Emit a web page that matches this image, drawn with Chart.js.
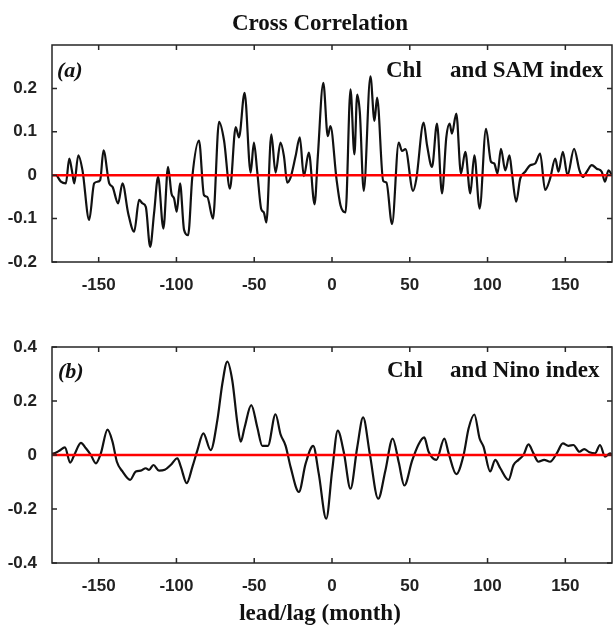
<!DOCTYPE html>
<html>
<head>
<meta charset="utf-8">
<script src="https://cdn.jsdelivr.net/npm/chart.js@4.4.0/dist/chart.umd.min.js"></script>
<style>
  html, body { margin: 0; padding: 0; background: #fff; }
  #wrap { position: relative; width: 614px; height: 632px; overflow: hidden; }
  .pane { position: absolute; left: 0; width: 614px; }
</style>
</head>
<body>
<div id="wrap">
  <div class="pane" style="top:0;height:310px"><canvas id="cA"></canvas></div>
  <div class="pane" style="top:310px;height:322px"><canvas id="cB"></canvas></div>
</div>
<script>
// ---- data (lag in months, correlation) ----
const lagA = [-180,-177.5,-174.3,-171.1,-168.9,-167.2,-165.7,-163.1,-160.4,-156.1,-152.9,-150.7,-149,-146.9,-143.2,-141.1,-137.5,-134.7,-131,-127.2,-124,-121.8,-119.7,-116.9,-114.4,-111.8,-108.4,-105.4,-103.2,-101.5,-99.8,-97.7,-95.1,-92.5,-89.8,-85.5,-82.3,-80.2,-76.5,-72.6,-69.4,-65.6,-61.9,-59.8,-56.2,-52.3,-50.2,-48,-45.5,-43.8,-42.2,-39,-36.3,-33.1,-30.9,-28.8,-26.6,-23.4,-20.7,-18.1,-14.9,-11.2,-9.1,-5.6,-2.7,-1,2.9,5.5,8.7,11.9,14.4,16.2,17.9,20.4,24.7,27.3,29,32.9,35,38.6,42.9,45,47.2,52.1,54.2,58.9,61.1,64.3,67.5,70.7,73.5,75.6,77.1,79.9,82.9,85.7,88.9,91.5,94.9,99,102.2,104.3,106.4,108.6,111.4,114.1,115.7,118.4,121,124.2,127.4,130.6,133.8,137,140.2,143.5,145.6,148.4,151.4,155.6,159.1,161.2,163.8,167,170.2,173.4,175.5,177.7,180];
const corrA = [0,0,-0.015,-0.019,0.038,0.011,-0.019,0.046,0.011,-0.103,-0.019,-0.015,-0.011,0.057,-0.019,-0.027,-0.065,-0.019,-0.088,-0.13,-0.057,-0.065,-0.073,-0.165,-0.088,-0.004,-0.123,0.019,-0.042,-0.054,-0.084,-0.019,-0.126,-0.138,-0.004,0.08,-0.046,-0.05,-0.1,0.123,0.08,-0.031,0.111,0.087,0.19,0.006,0.075,0.006,-0.078,-0.086,-0.109,0.094,0.006,0.075,0.044,-0.017,-0.005,0.044,0.087,-0.002,0.052,-0.067,0.044,0.213,0.09,0.113,-0.009,-0.07,-0.086,0.198,0.048,0.186,0.144,-0.036,0.228,0.125,0.179,-0.013,-0.017,-0.113,0.075,0.056,0.06,-0.036,-0.009,0.121,0.069,0.019,0.119,-0.042,0.088,0.119,0.096,0.142,0.004,0.054,-0.042,0.046,-0.077,0.107,0.031,0.027,0.004,0.061,0.011,0.046,0.004,-0.061,-0.008,0.008,0.023,0.027,0.05,-0.034,-0.008,0.038,0.008,0.054,0,0.061,0.011,-0.004,0.008,0.023,0.015,0.008,-0.015,0.011,0];

const lagB = [-180,-178.5,-175.3,-171.7,-168.3,-165.7,-161.4,-158.2,-155,-151.8,-148.6,-144.3,-141.1,-138.3,-134.7,-129.8,-126.1,-122.9,-119.7,-117.6,-114.8,-111.2,-107.5,-103.7,-99.4,-97.2,-93.4,-89.7,-86.5,-82.7,-78,-73.7,-70.5,-67.3,-64.1,-60.8,-58.7,-56.2,-51.9,-48,-44.8,-41.2,-36.3,-33.1,-29.8,-26.6,-21.3,-17,-12.1,-8.5,-3.7,0.1,3.7,7.6,11.9,16.2,20,24.3,29.7,34.3,39,42.9,46.5,51.5,55.7,59.3,62.1,67.1,72.2,75,79.9,84.6,87.8,91.5,94.9,97.4,101.7,104.9,108.2,113.5,116.7,119.9,123.1,126.3,129.5,132.7,136.4,140.2,144.5,148.4,152,155.2,159.1,162.1,165.5,169.1,172.3,175.5,178.8,180];
const corrB = [0.005,0.006,0.016,0.028,-0.028,0,0.045,0.025,0,-0.031,0.006,0.094,0.049,-0.025,-0.061,-0.092,-0.061,-0.058,-0.049,-0.055,-0.037,-0.058,-0.055,-0.037,-0.012,-0.043,-0.104,-0.043,0.018,0.08,0.018,0.129,0.264,0.346,0.276,0.117,0.049,0.102,0.185,0.102,0.034,0.034,0.151,0.077,0.034,-0.045,-0.137,-0.033,0.034,-0.07,-0.236,-0.058,0.09,0.01,-0.125,0.028,0.139,0.004,-0.162,-0.058,0.061,-0.027,-0.113,-0.021,0.04,0.065,0.012,-0.018,0.061,0.006,-0.071,0,0.098,0.15,0.061,0.031,-0.061,-0.018,-0.049,-0.092,-0.037,-0.018,0,0.039,0.006,-0.025,-0.018,-0.025,0.006,0.043,0.034,0.037,0.012,0.022,0.01,0.006,0.037,-0.006,0.006,0];

const lagRange = [-180, 180];
const xTicks = [-150, -100, -50, 0, 50, 100, 150];
const yTicksA = [-0.2, -0.1, 0, 0.1, 0.2];
const yTicksB = [-0.4, -0.2, 0, 0.2, 0.4];

const serif = '"Liberation Serif", "Times New Roman", serif';
const sans = '"Liberation Sans", Arial, sans-serif';

// box + inward tick marks + text labels (matlab look)
const framePlugin = {
  id: 'frame',
  afterDraw(chart, args, opts) {
    const { ctx, chartArea: a, scales } = chart;
    ctx.save();
    ctx.strokeStyle = '#262626';
    ctx.lineWidth = 1.5;
    ctx.strokeRect(a.left, a.top, a.right - a.left, a.bottom - a.top);
    const tl = 5;
    ctx.beginPath();
    scales.x.ticks.forEach(t => {
      const px = scales.x.getPixelForValue(t.value);
      ctx.moveTo(px, a.bottom); ctx.lineTo(px, a.bottom - tl);
      ctx.moveTo(px, a.top); ctx.lineTo(px, a.top + tl);
    });
    scales.y.ticks.forEach(t => {
      const py = scales.y.getPixelForValue(t.value);
      ctx.moveTo(a.left, py); ctx.lineTo(a.left + tl, py);
      ctx.moveTo(a.right, py); ctx.lineTo(a.right - tl, py);
    });
    ctx.stroke();
    ctx.fillStyle = '#111';
    ctx.textBaseline = 'alphabetic';
    (opts.texts || []).forEach(t => {
      ctx.font = t.font;
      ctx.textAlign = t.align || 'left';
      ctx.fillText(t.text, t.x, t.y);
    });
    ctx.restore();
  }
};

function makePanel(id, lags, corr, yMin, yMax, yTicks, padTop, xAxisH, texts) {
  return new Chart(document.getElementById(id), {
    type: 'line',
    data: {
      datasets: [
        { data: lagRange.map(v => ({ x: v, y: 0 })), borderColor: 'rgb(255,0,0)', borderWidth: 2.5, pointRadius: 0, order: 0 },
        { data: lags.map((v, i) => ({ x: v, y: corr[i] })), borderColor: '#111', borderWidth: 2.2, pointRadius: 0, cubicInterpolationMode: 'monotone', order: 1 }
      ]
    },
    options: {
      responsive: true, maintainAspectRatio: false, animation: false,
      layout: { padding: { top: padTop, right: 2, left: 0, bottom: 0 } },
      plugins: { legend: { display: false }, tooltip: { enabled: false }, frame: { texts } },
      scales: {
        x: {
          type: 'linear', min: lagRange[0], max: lagRange[1],
          grid: { display: false }, border: { display: false },
          afterBuildTicks: s => { s.ticks = xTicks.map(v => ({ value: v })); },
          afterFit: s => { s.height = xAxisH; },
          ticks: { color: '#222', padding: 5, font: { family: sans, size: 17, weight: 'bold' }, callback: v => String(v) }
        },
        y: {
          min: yMin, max: yMax,
          grid: { display: false }, border: { display: false },
          afterBuildTicks: s => { s.ticks = yTicks.map(v => ({ value: v })); },
          afterFit: s => { s.width = 52; },
          ticks: { color: '#222', padding: 7, font: { family: sans, size: 17, weight: 'bold' }, callback: v => String(v) }
        }
      }
    },
    plugins: [framePlugin]
  });
}

makePanel('cA', lagA, corrA, -0.2, 0.3, yTicksA, 45, 48, [
  { text: 'Cross Correlation', x: 320, y: 30, font: 'bold 23px ' + serif, align: 'center' },
  { text: '(a)', x: 57, y: 77, font: 'italic bold 22px ' + serif },
  { text: 'Chl', x: 386, y: 77, font: 'bold 23px ' + serif },
  { text: 'and SAM index', x: 450, y: 77, font: 'bold 23px ' + serif }
]);

makePanel('cB', lagB, corrB, -0.4, 0.4, yTicksB, 37, 69, [
  { text: '(b)', x: 58, y: 68, font: 'italic bold 22px ' + serif },
  { text: 'Chl', x: 387, y: 67, font: 'bold 23px ' + serif },
  { text: 'and Nino index', x: 450, y: 67, font: 'bold 23px ' + serif },
  { text: 'lead/lag (month)', x: 320, y: 620 - 310, font: 'bold 23px ' + serif, align: 'center' }
]);
</script>
</body>
</html>
